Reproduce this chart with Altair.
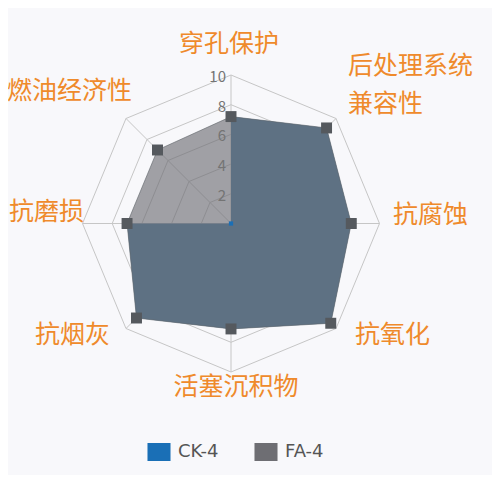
import math
import altair as alt
import pandas as pd

# ---------------- data ----------------
categories = ["穿孔保护", "后处理系统\n兼容性", "抗腐蚀", "抗氧化",
              "活塞沉积物", "抗烟灰", "抗磨损", "燃油经济性"]
ck4 = [7.2, 9.1, 8.1, 9.5, 7.1, 9.0, 7.0, 0.0]
fa4 = [7.2, 9.1, 8.1, 9.5, 7.1, 9.0, 7.0, 7.0]
ticks = [2, 4, 6, 8, 10]
series_names = ["CK-4", "FA-4"]
series_colors = ["#1a6fb6", "#6e6e73"]
max_value = 10

# ---------------- layout / style ----------------
W, H = 484, 467
CX, CY = 223.0, 215.5       # centre of the radar inside the plot area (px)
UNIT = 14.85                # px per value unit
XDOM = [-CX / UNIT, (W - CX) / UNIT]
YDOM = [-(H - CY) / UNIT, CY / UNIT]
GRID = "#c6c6c6"
LABEL_COLOR = "#ef8a2b"
FONT = "Noto Sans CJK SC"
CK_AREA = "#44799f"        # CK-4 area fill (seen under the FA-4 overlay)
FA_AREA = "#6e6e73"
# (align, dx, dy) per category label, relative to the outer vertex
label_style = [
    ("center", -2, -31),
    ("left", 12, -52.5),
    ("left", 13.5, -8.5),
    ("left", 19, 6.5),
    ("center", 5, 15),
    ("right", -16, 6.5),
    ("right", 1.5, -11.5),
    ("right", 6, -27.5),
]

N = len(categories)
angles = [i * 2 * math.pi / N for i in range(N)]

rows = []
for s, vals in zip(series_names, [ck4, fa4]):
    for i, v in enumerate(vals):
        rows.append(dict(series=s, cat=categories[i], idx=i, value=v,
                         x=v * math.sin(angles[i]), y=v * math.cos(angles[i])))
df = pd.DataFrame(rows)

grid_rows = []
for t in ticks:
    for i in range(N):
        grid_rows.append(dict(ring=t, idx=i, x=t * math.sin(angles[i]), y=t * math.cos(angles[i])))
grid_df = pd.DataFrame(grid_rows)

spoke_df = pd.DataFrame([dict(idx=i, x=0.0, y=0.0,
                              x2=max_value * math.sin(angles[i]),
                              y2=max_value * math.cos(angles[i])) for i in range(N)])

label_df = pd.DataFrame([dict(idx=i, cat=categories[i],
                              x=max_value * math.sin(angles[i]),
                              y=max_value * math.cos(angles[i])) for i in range(N)])

tick_df = pd.DataFrame(dict(t=ticks, x=[0.0] * len(ticks), y=ticks))

xs = alt.Scale(domain=XDOM, nice=False, zero=False)
ys = alt.Scale(domain=YDOM, nice=False, zero=False)
X = alt.X("x:Q", scale=xs, axis=None)
Y = alt.Y("y:Q", scale=ys, axis=None)
cscale = alt.Scale(domain=series_names, range=series_colors)

legend = alt.Legend(title=None, orient="none", direction="horizontal",
                    legendX=142, legendY=435,
                    symbolType="M-1.28,-1H1.28V1H-1.28Z", symbolSize=324,
                    symbolOpacity=1, symbolStrokeWidth=0,
                    labelFont="DejaVu Sans", labelFontSize=18, labelColor="#555555",
                    labelOffset=10, columnPadding=35)
COLOR = alt.Color("series:N", scale=cscale, legend=legend)

rings = alt.Chart(grid_df).mark_line(interpolate="linear-closed", color=GRID, strokeWidth=1).encode(
    x=X, y=Y, detail="ring:N", order="idx:Q")
spokes = alt.Chart(spoke_df).mark_rule(color=GRID, strokeWidth=1).encode(
    x=X, y=Y, x2="x2:Q", y2="y2:Q")

poly_ck = alt.Chart(df).transform_filter(alt.datum.series == "CK-4").mark_line(
    interpolate="linear-closed", filled=True, fill=CK_AREA, fillOpacity=1).encode(
    x=X, y=Y, order="idx:Q")
poly_fa = alt.Chart(df).transform_filter(alt.datum.series == "FA-4").mark_line(
    interpolate="linear-closed", filled=True, fill=FA_AREA, fillOpacity=0.64,
    stroke="#5d6268", strokeWidth=1, strokeOpacity=0.6).encode(
    x=X, y=Y, order="idx:Q")

markers_ck = alt.Chart(df).transform_filter(alt.datum.series == "CK-4").mark_square(
    size=18, opacity=1).encode(x=X, y=Y, color=COLOR)
markers_fa = alt.Chart(df).transform_filter(alt.datum.series == "FA-4").mark_square(
    size=120, color="#55595e", opacity=1).encode(x=X, y=Y)

tick_labels = alt.Chart(tick_df).mark_text(
    align="right", baseline="middle", dx=-5, dy=2, font=FONT, fontSize=15, color="#747474").encode(
    x=X, y=Y, text="t:Q")

label_layers = []
for i, (al, dx, dy) in enumerate(label_style):
    label_layers.append(
        alt.Chart(label_df).transform_filter(alt.datum.idx == i).mark_text(
            align=al, baseline="middle", dx=dx, dy=dy, font=FONT, fontSize=25,
            color=LABEL_COLOR, lineBreak="\n", lineHeight=38).encode(x=X, y=Y, text="cat:N"))

chart = alt.layer(rings, spokes, poly_ck, poly_fa, markers_ck, markers_fa, tick_labels,
                  *label_layers).properties(
    width=W, height=H, background="#f8f8fb", padding=0,
    autosize=alt.AutoSizeParams(type="none")
).configure_view(stroke=None)

chart.save("out.html", embed_options={"renderer": "svg", "actions": False})
